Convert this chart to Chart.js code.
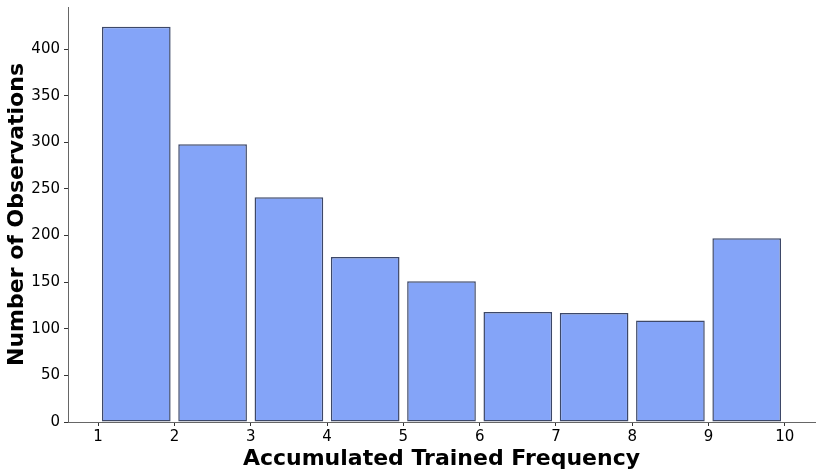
<!DOCTYPE html>
<html>
<head>
<meta charset="utf-8">
<script src="https://cdn.jsdelivr.net/npm/chart.js@4"></script>
<style>
  html, body { margin: 0; padding: 0; background: #fff; }
  #wrap { width: 822px; height: 476px; }
</style>
</head>
<body>
<div id="wrap"><canvas id="myChart"></canvas></div>
<script>
// ---------------------------------------------------------------- DATA
const binEdges = [1, 2, 3, 4, 5, 6, 7, 8, 9, 10];
const counts = [424, 298, 241, 177, 151, 118, 117, 109, 197];
const xTicks = [1, 2, 3, 4, 5, 6, 7, 8, 9, 10];
const yTicks = [0, 50, 100, 150, 200, 250, 300, 350, 400];

// ---------------------------------------------------------------- HELPERS
const points = counts.map((c, i) => ({
  x: (binEdges[i] + binEdges[i + 1]) / 2,
  y: c,
}));

const fontFamily = "'DejaVu Sans', sans-serif";

// ---------------------------------------------------------------- CHART
const graph = document.querySelector("#myChart");

new Chart(graph, {
  type: "bar",
  data: {
    datasets: [
      {
        data: points,
        backgroundColor: "#84a4f8",
        borderColor: "#3d4868",
        borderWidth: 1.5,
        borderSkipped: false,
        barPercentage: 0.9,
        categoryPercentage: 1.0,
      },
    ],
  },
  options: {
    responsive: true,
    maintainAspectRatio: false,
    animation: false,
    layout: { padding: { top: 7, right: 7, left: 0, bottom: 0 } },
    plugins: {
      legend: { display: false },
      tooltip: { enabled: false },
    },
    scales: {
      x: {
        type: "linear",
        min: 0.605,
        max: 10.395,
        offset: false,
        afterBuildTicks: (axis) => {
          axis.ticks = xTicks.map((v) => ({ value: v }));
        },
        afterFit: (axis) => {
          axis.height = 54;
          axis.paddingLeft = 0;
          axis.paddingRight = 0;
        },
        grid: {
          offset: false,
          drawOnChartArea: false,
          drawTicks: true,
          tickLength: 4,
          color: "#333",
        },
        border: { display: true, color: "#666", width: 1 },
        ticks: {
          color: "#000",
          font: { family: fontFamily, size: 15 },
          padding: 2,
          maxRotation: 0,
          autoSkip: false,
        },
        title: {
          display: true,
          text: "Accumulated Trained Frequency",
          color: "#000",
          font: { family: fontFamily, size: 22, weight: "bold" },
          padding: { top: 0, bottom: 4 },
        },
      },
      y: {
        min: 0,
        max: 445.2,
        afterBuildTicks: (axis) => {
          axis.ticks = yTicks.map((v) => ({ value: v }));
        },
        afterFit: (axis) => {
          axis.width = 68;
          axis.paddingTop = 0;
          axis.paddingBottom = 0;
        },
        grid: {
          drawOnChartArea: false,
          drawTicks: true,
          tickLength: 4,
          color: "#333",
        },
        border: { display: true, color: "#666", width: 1 },
        ticks: {
          color: "#000",
          font: { family: fontFamily, size: 15 },
          padding: 4,
        },
        title: {
          display: true,
          text: "Number of Observations",
          color: "#000",
          font: { family: fontFamily, size: 22, weight: "bold" },
          padding: { top: 4, bottom: 0 },
        },
      },
    },
  },
});
</script>
</body>
</html>
